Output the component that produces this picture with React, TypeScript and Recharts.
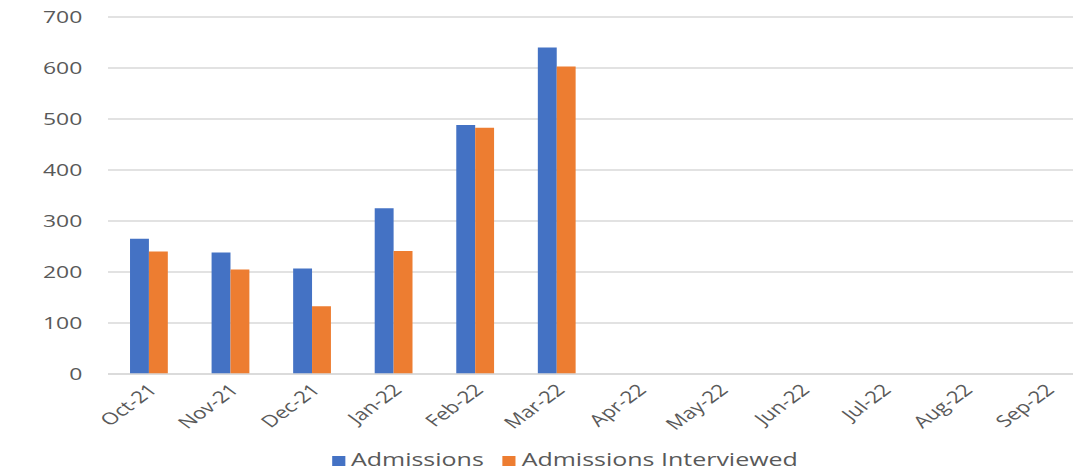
import { BarChart, Bar, XAxis, YAxis, CartesianGrid, Legend } from 'recharts';

const months = ['Oct-21', 'Nov-21', 'Dec-21', 'Jan-22', 'Feb-22', 'Mar-22', 'Apr-22', 'May-22', 'Jun-22', 'Jul-22', 'Aug-22', 'Sep-22'];
const admissions = [265, 238, 207, 325, 488, 640, null, null, null, null, null, null];
const interviewed = [240, 205, 133, 241, 483, 603, null, null, null, null, null, null];
const yTicks = [0, 100, 200, 300, 400, 500, 600, 700];

const data = months.map((m, i) => ({ month: m, admissions: admissions[i], interviewed: interviewed[i] }));

// source image is an Excel chart stretched sideways, so draw narrow then stretch
const STRETCH = 1.35;
const FONT = '"Open Sans", sans-serif';
const GREY = '#595959';

const MonthTick = (props: any) => {
  const { x, y, payload } = props;
  const tx = x + 7;
  const ty = y + 9;
  return (
    <text
      x={tx}
      y={ty}
      textAnchor="end"
      fill={GREY}
      fontSize={16.5}
      fontFamily={FONT}
      transform={`rotate(-45, ${tx}, ${ty})`}
    >
      {payload.value}
    </text>
  );
};

const App: React.FC = () => {
  return (
    <div style={{ marginLeft: -8, marginTop: -8, width: 1081, height: 476, overflow: 'hidden', background: '#fff' }}>
      <div style={{ width: 805, transform: `scaleX(${STRETCH})`, transformOrigin: 'left top' }}>
        <BarChart
          width={805}
          height={476}
          data={data}
          margin={{ top: 17, right: 0, left: 0, bottom: 5 }}
          barCategoryGap="27%"
          barGap={0}
        >
          <CartesianGrid vertical={false} stroke="#d9d9d9" strokeWidth={1.3} />
          <XAxis
            dataKey="month"
            interval={0}
            height={72}
            tickLine={false}
            axisLine={{ stroke: '#d9d9d9', strokeWidth: 1.3 }}
            tick={<MonthTick />}
          />
          <YAxis
            domain={[0, 700]}
            ticks={yTicks}
            width={80}
            axisLine={false}
            tickLine={false}
            tickSize={0}
            tickMargin={19}
            tick={{ fill: GREY, fontSize: 17, fontFamily: FONT }}
          />
          <Legend
            verticalAlign="bottom"
            iconType="square"
            iconSize={10}
            wrapperStyle={{ fontFamily: FONT, fontSize: 18.5, paddingLeft: 23 }}
            formatter={(value) => <span style={{ color: GREY, marginRight: 4 }}>{value}</span>}
          />
          <Bar dataKey="admissions" name="Admissions" fill="#4472c4" isAnimationActive={false} />
          <Bar dataKey="interviewed" name="Admissions Interviewed" fill="#ed7d31" isAnimationActive={false} />
        </BarChart>
      </div>
    </div>
  );
};

export default App;
